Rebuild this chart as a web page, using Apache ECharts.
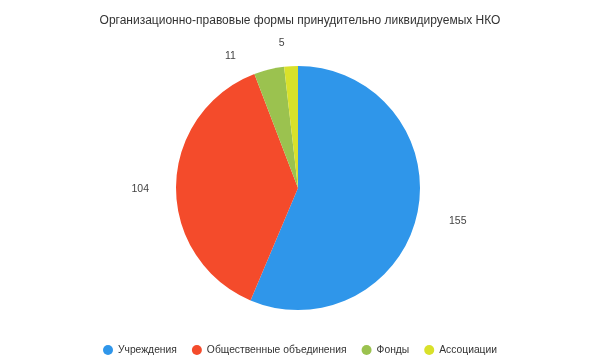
<!DOCTYPE html>
<html><head><meta charset="utf-8">
<script src="https://cdn.jsdelivr.net/npm/echarts@6/dist/echarts.min.js"></script>
<style>html,body{margin:0;padding:0;background:#fff}#c{width:600px;height:362px}</style>
</head><body><div id="c"></div>
<script>
const titleText = 'Организационно-правовые формы принудительно ликвидируемых НКО';
const categories = ['Учреждения', 'Общественные объединения', 'Фонды', 'Ассоциации'];
const values = [155, 104, 11, 5];
const colors = ['#2f96ea', '#f44b2b', '#9bc24f', '#d9e12a'];
const FONT = '"Liberation Sans", Arial, sans-serif';

const chart = echarts.init(document.getElementById('c'));
chart.setOption({
  animation: false,
  color: colors,
  title: {
    text: titleText, left: 'center', top: 10,
    textStyle: { fontFamily: FONT, fontSize: 12, fontWeight: 'normal', color: '#333' }
  },
  legend: {
    bottom: 2, left: 'center', icon: 'circle', itemWidth: 10, itemHeight: 10, itemGap: 15,
    textStyle: { fontFamily: FONT, fontSize: 10.3, color: '#333' },
    data: categories
  },
  series: [{
    type: 'pie',
    center: [298, 188],
    radius: [0, 122],
    startAngle: 90,
    clockwise: true,
    data: categories.map((n, i) => ({ name: n, value: values[i] })),
    label: { show: true, position: 'outside', formatter: '{c}', fontFamily: FONT, fontSize: 10.5, color: '#444' },
    labelLine: { show: false, length: 27, length2: 0 },
    labelLayout: { dy: 4 },
    itemStyle: { borderWidth: 0 },
    emphasis: { disabled: true }
  }]
});
</script></body></html>
